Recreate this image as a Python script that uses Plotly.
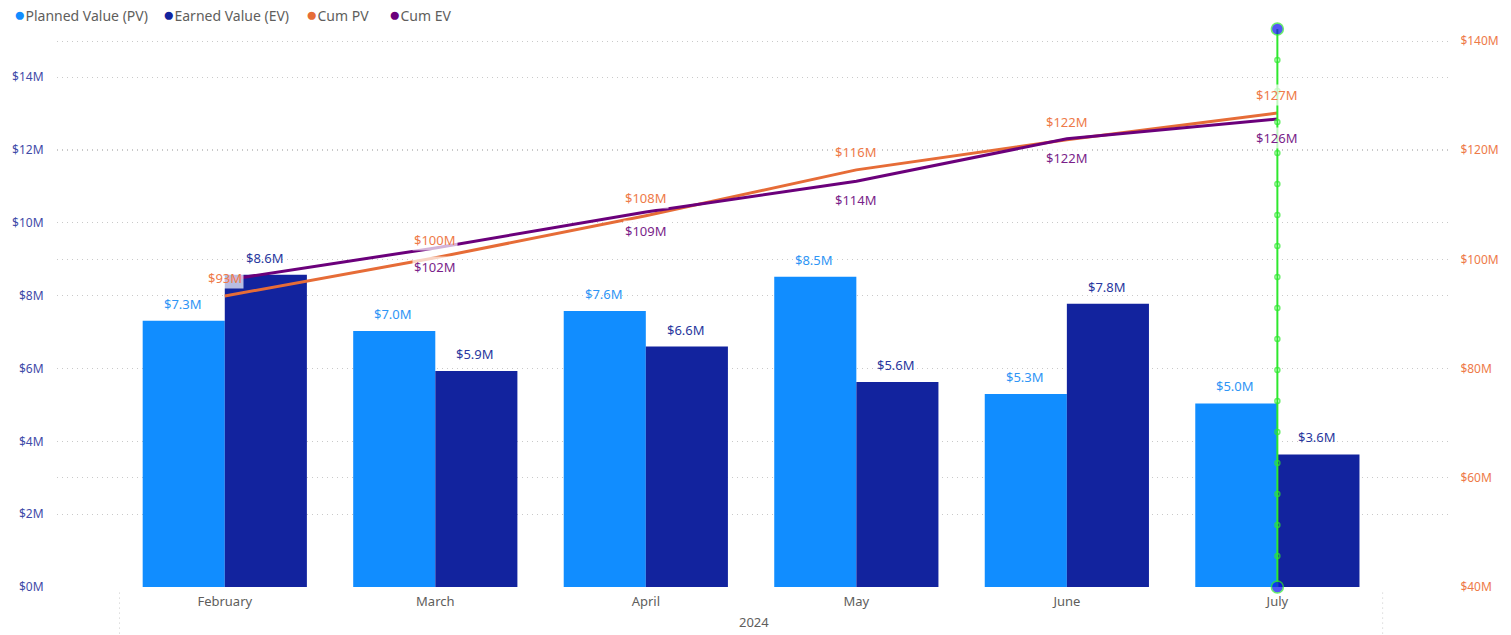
import plotly.graph_objects as go

# ---------------- data ----------------
months = ["February", "March", "April", "May", "June", "July"]
year_label = "2024"
planned_value = [7.31, 7.03, 7.58, 8.52, 5.30, 5.04]     # $M
earned_value = [8.57, 5.93, 6.60, 5.63, 7.78, 3.64]      # $M
cum_pv = [93.3, 100.3, 108.0, 116.4, 121.9, 126.8]       # $M
cum_ev = [96.2, 102.1, 108.7, 114.3, 122.1, 125.7]       # $M
cum_ev_label_shown = [False, True, True, True, True, True]
left_ticks = [0, 2, 4, 6, 8, 10, 12, 14]
right_ticks = [40, 60, 80, 100, 120, 140]
marker_month = "July"
marker_steps = list(range(19))

names = ["Planned Value (PV)", "Earned Value (EV)", "Cum PV", "Cum EV"]
colors = ["#118DFF", "#12239E", "#E66C37", "#6B007B"]

FONT = "Segoe UI, Noto Sans, Open Sans, sans-serif"
GRID = "#C9C9C9"
GRIDDASH = "1px,4px"
GREEN = "#2EE82E"

fig = go.Figure()

fig.add_trace(go.Bar(x=months, y=planned_value, name=names[0],
                     marker=dict(color=colors[0], line=dict(width=0)),
                     showlegend=False, offsetgroup="pv"))
fig.add_trace(go.Bar(x=months, y=earned_value, name=names[1],
                     marker=dict(color=colors[1], line=dict(width=0)),
                     showlegend=False, offsetgroup="ev"))

fig.add_trace(go.Scatter(x=months, y=cum_pv, name=names[2], yaxis="y2",
                         mode="lines", line=dict(color=colors[2], width=3),
                         showlegend=False))
fig.add_trace(go.Scatter(x=months, y=cum_ev, name=names[3], yaxis="y2",
                         mode="lines", line=dict(color=colors[3], width=3),
                         showlegend=False))

# green reference line at July
n = len(marker_steps)
fig.add_trace(go.Scatter(
    x=[marker_month] * n, y=marker_steps, yaxis="y3",
    mode="lines+markers", cliponaxis=False, showlegend=False, hoverinfo="skip",
    line=dict(color=GREEN, width=2),
    marker=dict(
        symbol=["circle"] + ["circle-open"] * (n - 2) + ["circle"],
        size=[12] + [5] * (n - 2) + [12],
        color=["#0A10F0"] + [GREEN] * (n - 2) + ["#0A10F0"],
        line=dict(color=GREEN, width=1.5),
    ),
))

annotations = []
# bar data labels
for i, m in enumerate(months):
    annotations.append(dict(x=m, y=planned_value[i], xref="x", yref="y",
                            text=f"${planned_value[i]:.1f}M", showarrow=False,
                            xshift=-42, yshift=17,
                            font=dict(family=FONT, size=13, color="#2E95F5")))
    annotations.append(dict(x=m, y=earned_value[i], xref="x", yref="y",
                            text=f"${earned_value[i]:.1f}M", showarrow=False,
                            xshift=40, yshift=17,
                            font=dict(family=FONT, size=13, color="#28379E")))
# line data labels
for i, m in enumerate(months):
    annotations.append(dict(x=m, y=cum_pv[i], xref="x", yref="y2",
                            text=f"${cum_pv[i]:.0f}M", showarrow=False,
                            yshift=18, bgcolor="rgba(255,255,255,0.7)", borderpad=1,
                            font=dict(family=FONT, size=13, color="#EE7A48")))
    if cum_ev_label_shown[i]:
        annotations.append(dict(x=m, y=cum_ev[i], xref="x", yref="y2",
                                text=f"${cum_ev[i]:.0f}M", showarrow=False,
                                yshift=-19, bgcolor="rgba(255,255,255,0.7)", borderpad=1,
                                font=dict(family=FONT, size=13, color="#7A1F8A")))

# year label under the category axis
annotations.append(dict(x=0.5, y=-0.043, xref="paper", yref="paper",
                        xanchor="center", yanchor="top", text=year_label, showarrow=False,
                        font=dict(family=FONT, size=13, color="#605E5C")))

# custom legend (circle markers)
legend_x = [-0.0325, 0.0745, 0.177, 0.237]
for nm, c, lx in zip(names, colors, legend_x):
    annotations.append(dict(
        x=lx, y=1.027, xref="paper", yref="paper", xanchor="left", yanchor="middle",
        showarrow=False,
        text=f"<span style='color:{c};font-size:19px'>●</span>"
             f"<span style='color:#605E5C'>{nm}</span>",
        font=dict(family=FONT, size=14, color="#605E5C")))

shapes = []
for xv in [-0.5, 5.5]:
    shapes.append(dict(type="line", xref="x", yref="paper", x0=xv, x1=xv,
                       y0=-0.01, y1=-0.09, line=dict(color=GRID, width=1, dash=GRIDDASH)))

fig.update_layout(
    width=1511, height=635,
    margin=dict(l=55, r=56, t=29, b=48),
    paper_bgcolor="white", plot_bgcolor="white",
    barmode="group", bargap=0.22, bargroupgap=0,
    font=dict(family=FONT, size=12, color="#605E5C"),
    showlegend=False,
    annotations=annotations, shapes=shapes,
    xaxis=dict(type="category", categoryorder="array", categoryarray=months,
               range=[-0.797, 5.82], showgrid=False, zeroline=False, showline=False,
               ticks="outside", ticklen=2, tickcolor="rgba(0,0,0,0)",
               tickfont=dict(family=FONT, size=13, color="#605E5C")),
    yaxis=dict(range=[0, 15.32], tickvals=left_ticks,
               ticktext=[f"${v}M" for v in left_ticks],
               showgrid=True, gridcolor=GRID, griddash=GRIDDASH, gridwidth=1,
               zeroline=False, showline=False,
               ticks="outside", ticklen=10, tickcolor="rgba(0,0,0,0)",
               tickfont=dict(family=FONT, size=12, color="#3F4BA8")),
    yaxis2=dict(range=[40, 142.2], tickvals=right_ticks,
                ticktext=[f"${v}M" for v in right_ticks],
                overlaying="y", side="right",
                showgrid=True, gridcolor=GRID, griddash=GRIDDASH, gridwidth=1,
                zeroline=False, showline=False,
                ticks="outside", ticklen=7, tickcolor="rgba(0,0,0,0)",
                tickfont=dict(family=FONT, size=12, color="#EE7A48")),
    yaxis3=dict(range=[0, 18], overlaying="y", visible=False, showgrid=False,
                zeroline=False),
)

fig.write_html("out.html", config={"displayModeBar": False},
               post_script="document.body.style.margin='0';document.body.style.overflow='hidden';")
